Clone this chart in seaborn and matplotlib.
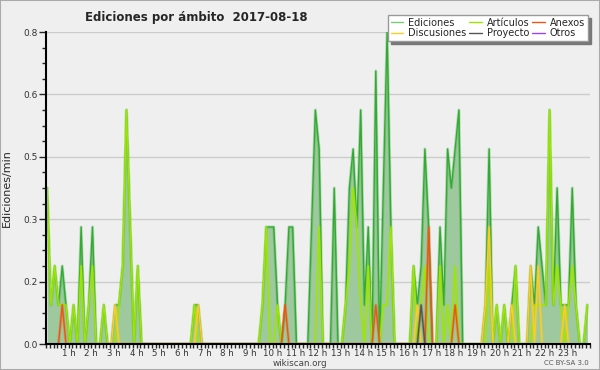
import numpy as np
import pandas as pd
import matplotlib
matplotlib.use("Agg")
import matplotlib.pyplot as plt
import seaborn as sns
from matplotlib.lines import Line2D
from matplotlib.patches import Rectangle

# edits per minute, one value per 10-minute bin (144 bins = 24 h)
ediciones = [
    .4, .1, .2, .1, .2, .1, 0, .1, 0, .3, 0, .1,
    .3, 0, 0, .1, 0, 0, .1, .1, .2, .6, .3, 0,
    .2, 0, 0, 0, 0, 0, 0, 0, 0, 0, 0, 0,
    0, 0, 0, .1, .1, 0, 0, 0, 0, 0, 0, 0,
    0, 0, 0, 0, 0, 0, 0, 0, 0, .1, .3, .3,
    .3, .1, 0, .1, .3, .3, 0, 0, 0, 0, .3, .6,
    .5, 0, 0, 0, .4, 0, 0, .1, .4, .5, .3, .6,
    .1, .3, 0, .7, 0, .4, .8, .3, 0, 0, 0, 0,
    0, .2, .1, .2, .5, .3, 0, 0, .3, .1, .5, .4,
    .5, .6, 0, 0, 0, 0, 0, 0, .1, .5, 0, .1,
    0, .1, 0, .1, .2, 0, 0, 0, .2, .1, .3, .2,
    .1, .6, .1, .4, .1, .1, .1, .4, .1, 0, 0, .1,
]
articulos = [
    .4, .1, .2, .1, .1, .1, 0, .1, 0, .2, 0, .1,
    .2, 0, 0, .1, 0, 0, 0, .1, .2, .6, .3, 0,
    .2, 0, 0, 0, 0, 0, 0, 0, 0, 0, 0, 0,
    0, 0, 0, .1, 0, 0, 0, 0, 0, 0, 0, 0,
    0, 0, 0, 0, 0, 0, 0, 0, 0, .1, .3, 0,
    0, .1, 0, 0, 0, 0, 0, 0, 0, 0, 0, 0,
    .3, 0, 0, 0, 0, 0, 0, .1, .2, .4, .3, .1,
    0, .2, 0, 0, 0, .1, .1, .3, 0, 0, 0, 0,
    0, .2, 0, .1, .2, 0, 0, 0, .2, 0, .1, 0,
    .2, 0, 0, 0, 0, 0, 0, 0, 0, .2, 0, .1,
    0, .1, 0, 0, .2, 0, 0, 0, 0, .1, .1, .1,
    .1, .6, .1, .2, .1, 0, .1, .2, .1, 0, 0, .1,
]
# sparse series: bin -> value
discusiones = {18: .1, 40: .1, 98: .1, 116: .1, 117: .3, 123: .1, 128: .2, 130: .2, 137: .1}
anexos = {4: .1, 63: .1, 87: .1, 101: .3, 108: .1}
proyecto = {99: .1}
otros = {}

hour_labels = [f"{h} h" for h in range(1, 24)]
ytick_vals = [0, 0.16, 0.32, 0.48, 0.64, 0.8]
ytick_labels = ["0.0", "0.2", "0.3", "0.5", "0.6", "0.8"]


def dense(d):
    out = np.zeros(144)
    for k, v in d.items():
        out[k] = v
    return out


def hide_flat_zeros(v):
    # keep zeros only where they close a peak, so nothing runs along the axis
    v = np.asarray(v, dtype=float)
    prev = np.r_[0, v[:-1]]
    nxt = np.r_[v[1:], 0]
    return np.where((v == 0) & (prev == 0) & (nxt == 0), np.nan, v)


df = pd.DataFrame({
    "hora": np.arange(144) / 6 + 0.05,
    "Ediciones": ediciones,
    "Artículos": articulos,
    "Discusiones": dense(discusiones),
    "Anexos": dense(anexos),
    "Proyecto": dense(proyecto),
    "Otros": dense(otros),
})

colors = {
    "Ediciones": "#33aa33",
    "Artículos": "#9ee600",
    "Anexos": "#ee5511",
    "Discusiones": "#ffcc22",
    "Proyecto": "#555555",
    "Otros": "#9944ee",
}
legend_colors = dict(colors, Ediciones="#77cc77")

sns.set_style("white")
plt.rcParams["font.family"] = ["DejaVu Sans"]

bg = "#efeff0"
fig = plt.figure(figsize=(6, 3.7), dpi=100, facecolor=bg)
fig.patches.append(Rectangle((0, 0), 1, 1, transform=fig.transFigure,
                             fill=False, edgecolor="#aaaaaa", lw=1.5))
ax = fig.add_axes([46 / 600, 26 / 370, 544 / 600, 312 / 370])
ax.set_facecolor(bg)

ax.fill_between(df["hora"], df["Ediciones"], color="#9ec99e", lw=0, zorder=1)
for col in ["Ediciones", "Artículos", "Discusiones", "Anexos", "Proyecto", "Otros"]:
    y = hide_flat_zeros(df[col])
    sns.lineplot(x=df["hora"], y=y, color=colors[col], lw=2.2, alpha=0.3,
                 ax=ax, legend=False, zorder=2)
    sns.lineplot(x=df["hora"], y=y, color=colors[col], lw=1.0,
                 ax=ax, legend=False, zorder=2)

ax.set_xlim(0, 24)
ax.set_ylim(0, 0.8)
ax.set_xticks(range(1, 24))
ax.set_xticklabels(hour_labels)
ax.set_xticks(np.arange(0, 24.01, 1 / 6), minor=True)
ax.set_yticks(ytick_vals)
ax.set_yticklabels(ytick_labels)
ax.set_yticks(np.arange(0, 0.81, 0.04), minor=True)
ax.tick_params(axis="x", which="both", length=3, width=1, pad=0.5,
               labelsize=6.2, labelcolor="#333333", bottom=True)
ax.tick_params(axis="y", which="major", length=5, width=1, pad=1,
               labelsize=6.5, labelcolor="#333333", left=True)
ax.tick_params(axis="y", which="minor", length=3, width=1, left=True)
ax.grid(axis="y", color="#cccccc", lw=1)
ax.set_axisbelow(True)
sns.despine(ax=ax)
for s in ["left", "bottom"]:
    ax.spines[s].set_linewidth(1.5)
    ax.spines[s].set_color("black")
    ax.spines[s].set_zorder(5)

ax.set_xlabel("")
ax.set_ylabel("Ediciones/min", fontsize=8)
ax.yaxis.set_label_coords(-0.062, 0.5)

fig.text(85 / 600, 1 - 17 / 370, "Ediciones por ámbito  2017-08-18",
         fontsize=8.5, fontweight="bold", va="center", ha="left")
fig.text(300 / 600, 1 - 363.5 / 370, "wikiscan.org", fontsize=6.3,
         ha="center", va="center", color="#444444")
fig.text(589 / 600, 1 - 363 / 370, "CC BY-SA 3.0", fontsize=5,
         ha="right", va="center", color="#555555")

order = ["Ediciones", "Discusiones", "Artículos", "Proyecto", "Anexos", "Otros"]
handles = [Line2D([], [], color=legend_colors[k], lw=1) for k in order]
fig.legend(handles, order, ncol=3, loc="upper right",
           bbox_to_anchor=(593 / 600, 1 - 10 / 370), fontsize=7,
           frameon=True, fancybox=False, edgecolor="#999999", facecolor="white",
           framealpha=1, shadow={"color": "#777777", "alpha": 1},
           handlelength=1.3, handletextpad=0.5, columnspacing=0.3,
           labelspacing=0.05, borderpad=0.3)

fig.savefig("out.png", dpi=100, facecolor=fig.get_facecolor())
